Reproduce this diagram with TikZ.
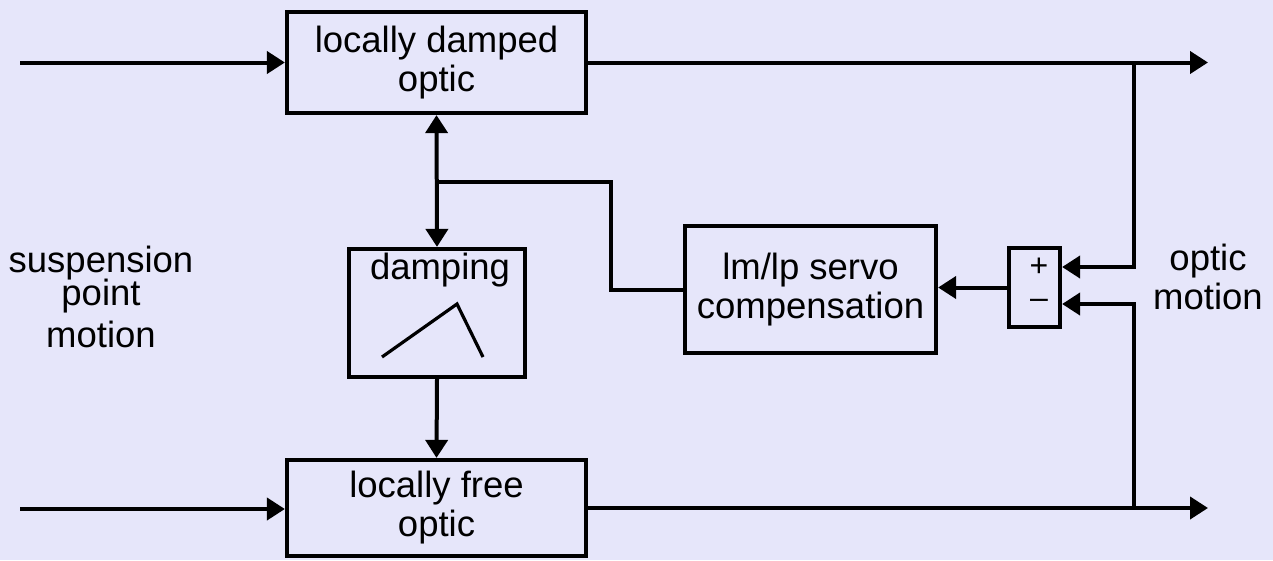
\documentclass[tikz,border=0pt]{standalone}
\usepackage{fontspec}
\setmainfont{Liberation Sans}
\usetikzlibrary{arrows.meta}
\definecolor{lavbg}{RGB}{230,230,250}

\begin{document}
\begin{tikzpicture}[x=1pt,y=-1pt,
            line width=4pt,
            every node/.style={font=\fontsize{36.5}{39}\selectfont,align=center,inner sep=0pt},
            block/.style={draw,line width=4.2pt},
            arr/.style={-{Triangle[length=18pt,width=22pt]}},
            darr/.style={{Triangle[length=18pt,width=22pt]}-{Triangle[length=18pt,width=22pt]}}
          ]
          \fill[lavbg] (0,0) rectangle (1273,560);
          \useasboundingbox (0,0) rectangle (1273,560);

          % blocks
          \node[block,minimum width=299pt,minimum height=101pt] (damped) at (436.5,62.5) {locally damped\\optic};
          \node[block,minimum width=299pt,minimum height=96pt] (free) at (436.5,508) {locally free\\optic};
          \node[block,minimum width=176pt,minimum height=128pt] (damp) at (437,313) {};
          \node (damptxt) at (440,270) {damping};
          \node[block,minimum width=251pt,minimum height=127pt] (servo) at (810.5,289.5) {lm/lp servo\\compensation};
          \node[block,minimum width=51pt,minimum height=79pt] (sum) at (1034.5,287.5) {};
          \node[font=\fontsize{32}{34}\selectfont] (plus) at (1039,267) {+};
          \node[font=\fontsize{32}{34}\selectfont] (minus) at (1039,304) {--};

          % side labels
          \node (inlbl) at (101,297) {suspension\\[-6pt]point\\[3pt]motion};
          \node (outlbl) at (1208,277) {optic\\motion};

          % ends and corners
          \coordinate (in1) at (20,62.5);
          \coordinate (in2) at (20,509);
          \coordinate (out1) at (1208,62.5);
          \coordinate (out2) at (1208,508);
          \coordinate (tap1) at (1134,62.5);
          \coordinate (tap2) at (1134,508);
          \coordinate (jn) at (437,182);

          % signal paths
          \draw[arr] (in1) -- (damped.west);
          \draw[arr] (in2) -- (free.west |- in2);
          \draw[arr] (damped.east) -- (out1);
          \draw[arr] (free.east) -- (out2);
          \draw[arr] (tap1) |- (sum.east |- plus);
          \draw[arr] (tap2) |- (sum.east |- minus);
          \draw[arr] (sum.west) -- (servo.east |- sum.west);
          \draw (servo.west) -| (611,182) -- (jn);
          \draw[darr] (damped.south) -- (damp.north);
          \draw[arr] (damp.south) -- (free.north);

          % damping sketch
          \draw[line width=3.2pt] (382,357) -- (457,304) -- (483,357);
\end{tikzpicture}
\end{document}
